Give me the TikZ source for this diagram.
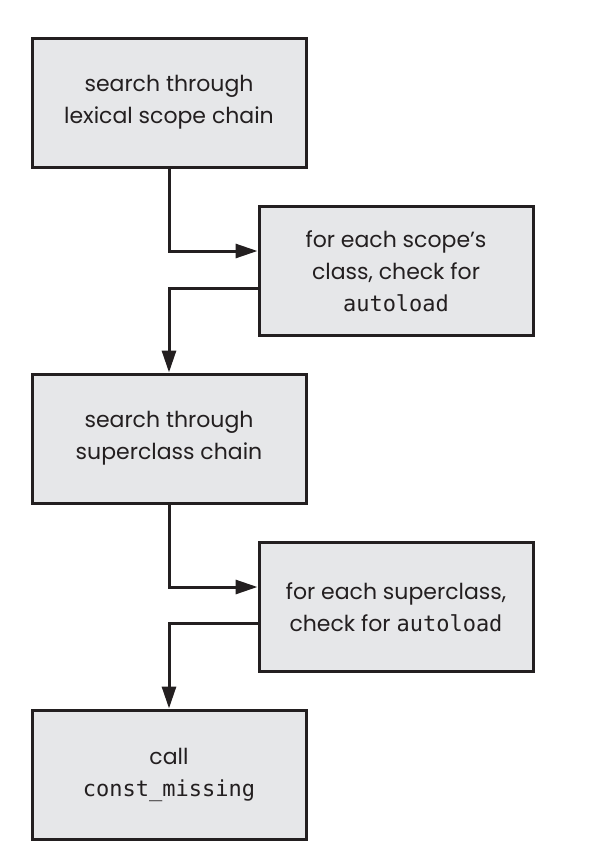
\documentclass[tikz,border=0pt]{standalone}
\usepackage{fontspec}
\setmainfont{Poppins}
\setmonofont{DejaVu Sans Mono}
\usetikzlibrary{arrows.meta}
\definecolor{boxfill}{HTML}{E6E7E9}
\definecolor{ink}{HTML}{231F20}
\begin{document}
\begin{tikzpicture}[x=1pt,y=-1pt,
  stepbox/.style={draw=ink,fill=boxfill,line width=3pt,minimum width=274pt,minimum height=129pt,
    align=center,font=\fontsize{22}{32}\selectfont,text=ink,inner sep=0pt},
  flow/.style={draw=ink,line width=3pt,-{Triangle[length=22pt,width=14pt]}}]
\useasboundingbox (0,0) rectangle (592,860);
\node[stepbox] (b1) at (169,102.5) {search through\\lexical scope chain};
\node[stepbox] (b2) at (396,271) {for each scope’s\\class, check for\\\texttt{\fontsize{22}{32}\selectfont autoload}};
\node[stepbox] (b3) at (169,438.5) {search through\\superclass chain};
\node[stepbox] (b4) at (396,607) {for each superclass,\\check for \texttt{\fontsize{22}{32}\selectfont autoload}};
\node[stepbox] (b5) at (169,774.5) {call\\\texttt{\fontsize{22}{32}\selectfont const\_missing}};
\draw[flow] (b1.south) |- ([yshift=20pt]b2.west);
\draw[flow] ([yshift=-17pt]b2.west) -| (b3.north);
\draw[flow] (b3.south) |- ([yshift=20pt]b4.west);
\draw[flow] ([yshift=-16pt]b4.west) -| (b5.north);
\end{tikzpicture}
\end{document}
